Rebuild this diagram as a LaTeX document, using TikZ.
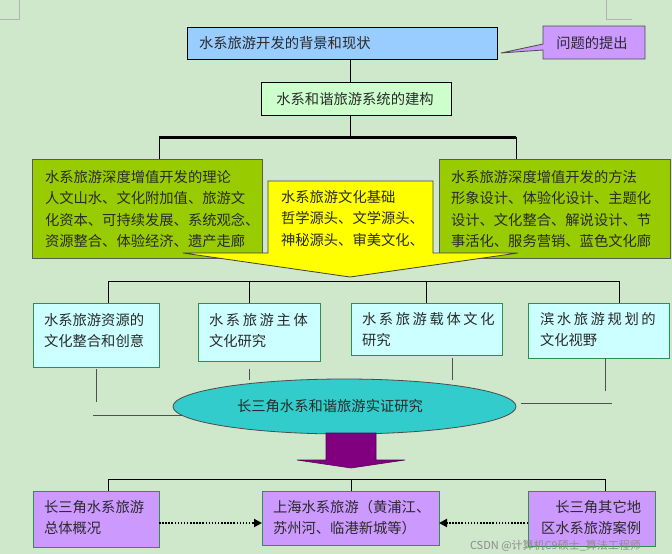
\documentclass[tikz,border=0pt]{standalone}
\usepackage{fontspec}
\setmainfont{Noto Sans CJK SC}
\usetikzlibrary{arrows.meta,shapes.geometric}
\definecolor{bgc}{HTML}{CFE7CB}
\definecolor{blueF}{HTML}{99CCFF}
\definecolor{lilacF}{HTML}{CC99FF}
\definecolor{mintF}{HTML}{CCFFCC}
\definecolor{oliveF}{HTML}{99CC00}
\definecolor{yelF}{HTML}{FFFF00}
\definecolor{cyanF}{HTML}{CCFFFF}
\definecolor{tealF}{HTML}{33CCCC}
\definecolor{plumF}{HTML}{800080}
\definecolor{grnB}{HTML}{2F8F4F}
\definecolor{txtc}{HTML}{2A2A2A}
\definecolor{lineG}{HTML}{505050}
\newcommand\gk{\kern2.6pt}
\begin{document}
\begin{tikzpicture}[x=1pt,y=-1pt,
  every node/.style={inner sep=0pt,outer sep=0pt},
  rbox/.style={draw=#1,line width=0.8pt,anchor=north west},
  txt/.style={anchor=north west,align=left,text=txtc,font=\fontsize{14.3}{21.5}\selectfont},
  ctxt/.style={text=txtc,font=\fontsize{14.3}{21.5}\selectfont},
  conn/.style={draw=black,line width=0.8pt},
  gconn/.style={draw=lineG,line width=0.8pt},
  thickbar/.style={draw=black,line width=3pt},
  dotarr/.style={draw=black,line width=2pt,dash pattern=on 1.5pt off 1.6pt,-{Triangle[length=8pt,width=8pt]}},
  marks/.style={draw=black!30,line width=0.6pt}
]
\useasboundingbox (0,0) rectangle (672,554);
\fill[bgc] (0,0) rectangle (672,554);
% page corner marks
\draw[marks] (0,19) -- (19,19) -- (19,0);
\draw[marks] (606,0) -- (606,19) -- (632,19);

% top boxes
\node[rbox=black,fill=blueF,minimum width=310,minimum height=32] (bg) at (187,27) {};
\node[ctxt,anchor=west] (tbg) at (199,43) {水系旅游开发的背景和现状};
\path[draw=black!70,line width=0.8pt,fill=lilacF] (543,26) -- (645,26) -- (645,59) -- (543,59) -- (543,50) -- (501,53) -- (543,44) -- cycle;
\node[ctxt] (tq) at (592,43) {问题的提出};
\node[rbox=black,fill=mintF,minimum width=190,minimum height=33] (gr) at (261,82) {};
\node[ctxt] (tgr) at (355,99) {水系和谐旅游系统的建构};

\coordinate (cx) at (350,0);
\coordinate (barL) at (159,137);
\coordinate (barM) at (350,137);
\coordinate (barR) at (516,137);
\draw[conn] (bg.south -| cx) -- (gr.north -| cx);
\draw[conn] (gr.south -| cx) -- (barM);

% olive boxes
\node[rbox=black!65,fill=oliveF,minimum width=230,minimum height=99] (ol) at (32,159) {};
\node[rbox=black!65,fill=oliveF,minimum width=231,minimum height=99] (or) at (439,159) {};
\draw[conn] (barL) -- (ol.north -| barL);
\draw[conn] (barR) -- (or.north -| barR);
\draw[thickbar] (barL) -- (barR);
\node[txt] (tol) at (45,170) {水系旅游深度增值开发的理论\\人文山水、文化附加值、旅游文\\化资本、可持续发展、系统观念、\\资源整合、体验经济、遗产走廊};
\node[txt] (tor) at (451,170) {水系旅游深度增值开发的方法\\形象设计、体验化设计、主题化\\设计、文化整合、解说设计、节\\事活化、服务营销、蓝色文化廊};

% yellow arrow
\path[draw=black!75,line width=0.8pt,fill=yelF] (268,181) -- (433,181) -- (433,253) -- (518,253) -- (350,277) -- (183,253) -- (268,253) -- cycle;
\node[txt] (tye) at (281,190) {水系旅游文化基础\\哲学源头、文学源头、\\神秘源头、审美文化、};
\coordinate (tip) at (350,277);

% second row
\coordinate (h1L) at (108,281);
\coordinate (h1R) at (619,281);
\coordinate (v2) at (249,281);
\coordinate (v3) at (426,281);
\draw[conn] (h1L) -- (h1R);
\node[rbox=grnB,fill=cyanF,minimum width=126,minimum height=64] (c1) at (33,303) {};
\node[rbox=grnB,fill=cyanF,minimum width=122,minimum height=58] (c2) at (198,303) {};
\node[rbox=grnB,fill=cyanF,minimum width=151,minimum height=52] (c3) at (351,303) {};
\node[rbox=grnB,fill=cyanF,minimum width=141,minimum height=55] (c4) at (528,303) {};
\draw[conn] (h1L) -- (c1.north -| h1L);
\draw[conn] (v2) -- (c2.north -| v2);
\draw[conn] (v3) -- (c3.north -| v3);
\draw[conn] (h1R) -- (c4.north -| h1R);
\node[txt] (tc1) at (44,313) {水系旅游资源的\\文化整合和创意};
\node[txt] (tc2) at (209,313) {水\gk 系\gk 旅\gk 游\gk 主\gk 体\\文化研究};
\node[txt] (tc3) at (362,312) {水\gk 系\gk 旅\gk 游\gk 载\gk 体\gk 文\gk 化\\研究};
\node[txt] (tc4) at (540,312) {滨\gk 水\gk 旅\gk 游\gk 规\gk 划\gk 的\\文化视野};

% ellipse
\node[ellipse,draw=black!70,line width=0.8pt,fill=tealF,minimum width=343,minimum height=55] (ell) at (344.5,406.5) {};
\node[ctxt] (tel) at (330,406) {长三角水系和谐旅游实证研究};

% loose segments under the second row
\coordinate (s1a) at (96,369);  \coordinate (s1b) at (96,402);
\coordinate (s1c) at (93,415);  \coordinate (s1d) at (183,415);
\coordinate (s2a) at (249,369); \coordinate (s2b) at (249,380);
\coordinate (s3a) at (452,358); \coordinate (s3b) at (452,380);
\coordinate (s4a) at (605,358); \coordinate (s4b) at (605,391);
\coordinate (s4c) at (521,403); \coordinate (s4d) at (612,403);
\draw[gconn] (s1a) -- (s1b);
\draw[gconn] (s1c) -- (s1d);
\draw[gconn] (s2a) -- (s2b);
\draw[gconn] (s3a) -- (s3b);
\draw[gconn] (s4a) -- (s4b);
\draw[gconn] (s4c) -- (s4d);

% purple arrow
\path[draw=plumF!70!black,line width=0.6pt,fill=plumF] (326,433) -- (376,433) -- (376,460) -- (405,460) -- (351,468) -- (297,460) -- (326,460) -- cycle;

% bottom row
\coordinate (h2L) at (108,479);
\coordinate (h2M) at (351,479);
\coordinate (h2R) at (605,479);
\draw[conn] (h2L) -- (h2R);
\node[rbox=grnB,fill=lilacF,minimum width=126,minimum height=56] (l1) at (33,491) {};
\node[rbox=grnB,fill=lilacF,minimum width=177,minimum height=54] (l2) at (262,491) {};
\node[rbox=grnB,fill=lilacF,minimum width=127,minimum height=55] (l3) at (528,491) {};
\draw[conn] (h2L) -- (l1.north -| h2L);
\draw[conn] (h2M) -- (l2.north -| h2M);
\draw[conn] (h2R) -- (l3.north -| h2R);
\node[txt] (tl1) at (44,500) {长三角水系旅游\\总体概况};
\node[txt] (tl2) at (273,500) {上海水系旅游（黄浦江、\\苏州河、临港新城等）};
\node[txt] (tl3) at (541,500) {\hspace*{14.3pt}长三角其它地\\区水系旅游案例};
\coordinate (dy) at (0,523);
\draw[dotarr] (l1.east |- dy) -- (l2.west |- dy);
\draw[dotarr] (l3.west |- dy) -- (l2.east |- dy);

% watermark
\node[anchor=west,text=white!55!black,font=\fontsize{11}{13}\selectfont] (wm) at (470,546) {CSDN @计算机C9硕士\_算法工程师};
\end{tikzpicture}
\end{document}
